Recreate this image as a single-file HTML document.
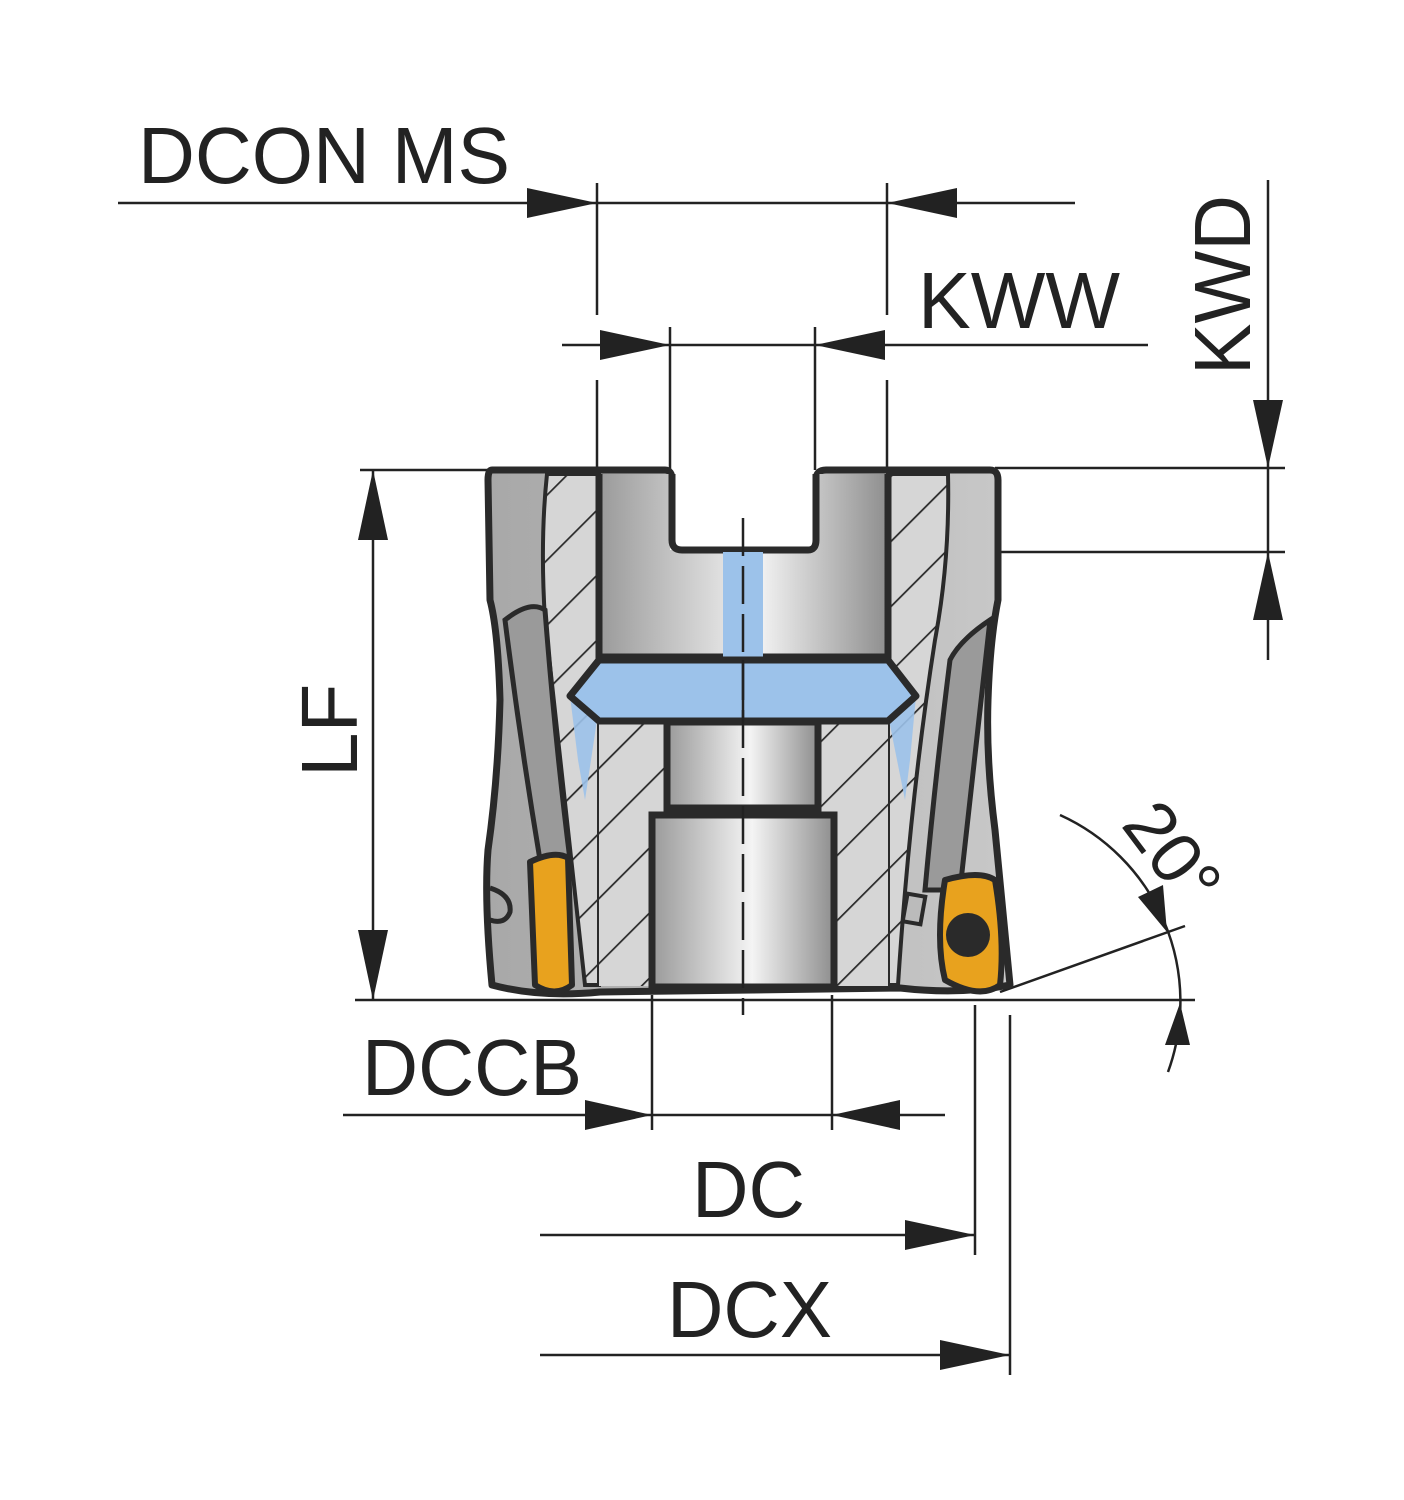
<!DOCTYPE html>
<html><head><meta charset="utf-8"><style>html,body{margin:0;padding:0;background:#fff}svg{display:block}</style></head>
<body>
<svg width="1404" height="1500" viewBox="0 0 1404 1500" xmlns="http://www.w3.org/2000/svg" font-family="Liberation Sans, sans-serif">
<defs>
<linearGradient id="bore" x1="0" x2="1" y1="0" y2="0">
<stop offset="0" stop-color="#9a9a9a"/><stop offset="0.55" stop-color="#f4f4f4"/><stop offset="1" stop-color="#8e8e8e"/></linearGradient>
<linearGradient id="outer" x1="0" x2="1"><stop offset="0" stop-color="#a8a8a8"/><stop offset="1" stop-color="#c8c8c8"/></linearGradient>
<pattern id="hatch" patternUnits="userSpaceOnUse" width="46" height="46" patternTransform="rotate(45)">
<rect width="46" height="46" fill="#d6d6d6"/><line x1="0" y1="0" x2="0" y2="46" stroke="#2a2a2a" stroke-width="3.5"/></pattern>
</defs>
<g stroke="#222" stroke-width="2.5" fill="none">
<line x1="118" y1="203" x2="1075" y2="203"/>
<line x1="597" y1="183" x2="597" y2="315"/><line x1="887" y1="183" x2="887" y2="315"/>
<line x1="562" y1="345" x2="1148" y2="345"/>
<line x1="670" y1="327" x2="670" y2="470"/><line x1="815" y1="327" x2="815" y2="470"/>
<line x1="597" y1="380" x2="597" y2="470"/><line x1="887" y1="380" x2="887" y2="470"/>
<line x1="1268" y1="180" x2="1268" y2="660"/>
<line x1="995" y1="468" x2="1285" y2="468"/><line x1="820" y1="552" x2="1285" y2="552"/>
<line x1="373" y1="470" x2="373" y2="1000"/>
<line x1="360" y1="470" x2="490" y2="470"/><line x1="355" y1="1000" x2="1195" y2="1000"/>
<line x1="343" y1="1115" x2="945" y2="1115"/>
<line x1="652" y1="995" x2="652" y2="1130"/><line x1="832" y1="995" x2="832" y2="1130"/>
<line x1="540" y1="1235" x2="975" y2="1235"/><line x1="975" y1="1005" x2="975" y2="1255"/>
<line x1="540" y1="1355" x2="1010" y2="1355"/><line x1="1010" y1="1015" x2="1010" y2="1375"/>
<path d="M1060 815 A205 205 0 0 1 1168 1072"/>
<line x1="1000" y1="992" x2="1185" y2="926"/>
</g>
<g fill="#222">
<polygon points="597,203 527,188 527,218"/><polygon points="887,203 957,188 957,218"/>
<polygon points="670,345 600,330 600,360"/><polygon points="815,345 885,330 885,360"/>
<polygon points="1268,468 1253,400 1283,400"/><polygon points="1268,552 1253,620 1283,620"/>
<polygon points="373,470 358,540 388,540"/><polygon points="373,1000 358,930 388,930"/>
<polygon points="652,1115 585,1100 585,1130"/><polygon points="832,1115 900,1100 900,1130"/>
<polygon points="975,1235 905,1220 905,1250"/><polygon points="1010,1355 940,1340 940,1370"/>
<polygon points="1167,932 1138,897 1163,885"/><polygon points="1180,1003 1165,1045 1190,1045"/>
</g>
<path d="M492 470 L665 470 Q672 470 672 480 L672 540 Q672 550 682 550 L808 550 Q816 550 816 540 L816 480 Q816 470 826 470 L990 470 Q998 470 998 480 L998 600 Q990 640 988 700 Q986 760 995 830 L1010 985 Q960 995 900 988 L600 992 Q540 998 492 985 Q484 900 488 850 Q498 780 500 700 Q498 630 490 600 L488 480 Q488 470 492 470 Z" fill="url(#outer)" stroke="#2a2a2a" stroke-width="7" stroke-linejoin="round"/>
<path d="M547 474 L599 474 L599 985 L585 985 Q565 800 545 620 Q540 540 547 474 Z" fill="url(#hatch)" stroke="#2a2a2a" stroke-width="4"/>
<path d="M888 474 L948 474 Q950 560 935 640 Q910 800 898 985 L888 985 Z" fill="url(#hatch)" stroke="#2a2a2a" stroke-width="4"/>
<rect x="599" y="722" width="289" height="264" fill="url(#hatch)"/>
<polygon points="570,696 600,700 585,800 578,760" fill="#9cc2ea" opacity="0.9"/>
<polygon points="916,696 885,700 905,800 910,760" fill="#9cc2ea" opacity="0.9"/>
<path d="M505 620 Q530 600 545 610 Q555 740 570 860 L540 860 Q520 740 505 620 Z" fill="#9a9a9a" stroke="#2a2a2a" stroke-width="5"/>
<path d="M990 620 Q960 640 950 660 Q935 780 925 890 L960 890 Q975 760 990 620 Z" fill="#9a9a9a" stroke="#2a2a2a" stroke-width="5"/>
<rect x="599" y="474" width="289" height="183" fill="url(#bore)"/>
<rect x="670" y="474" width="146" height="76" fill="#fff"/>
<path d="M599 474 L599 657 L888 657 L888 474 M672 474 L672 540 Q672 550 682 550 L808 550 Q816 550 816 540 L816 474" fill="none" stroke="#2a2a2a" stroke-width="7"/>
<rect x="723" y="552" width="40" height="105" fill="#9cc2ea"/>
<polygon points="599,660 888,660 916,696 888,721 599,721 570,696" fill="#9cc2ea" stroke="#2a2a2a" stroke-width="7" stroke-linejoin="round"/>
<rect x="667" y="722" width="151" height="86" fill="url(#bore)" stroke="#2a2a2a" stroke-width="7"/>
<rect x="652" y="815" width="182" height="172" fill="url(#bore)" stroke="#2a2a2a" stroke-width="7"/>
<line x1="743" y1="518" x2="743" y2="1015" stroke="#222" stroke-width="2.5" stroke-dasharray="38 10"/>
<line x1="743" y1="660" x2="743" y2="721" stroke="#222" stroke-width="2.5"/>
<path d="M530 862 Q555 850 568 858 L572 985 Q555 998 535 985 Z" fill="#e8a21e" stroke="#2a2a2a" stroke-width="6" stroke-linejoin="round"/>
<path d="M490 888 Q512 895 510 912 Q505 925 490 920" fill="none" stroke="#2a2a2a" stroke-width="5"/>
<path d="M945 880 Q980 870 995 880 Q1005 940 1000 985 Q980 1000 945 980 Q935 940 945 880 Z" fill="#e8a21e" stroke="#2a2a2a" stroke-width="6" stroke-linejoin="round"/>
<circle cx="968" cy="935" r="22" fill="#2a2a2a"/>
<rect x="905" y="895" width="18" height="28" fill="#bbb" stroke="#2a2a2a" stroke-width="4" transform="rotate(10 914 909)"/>
<g fill="#222" font-size="80">
<text x="138" y="183" textLength="372" lengthAdjust="spacingAndGlyphs">DCON MS</text>
<text x="918" y="328" textLength="202" lengthAdjust="spacingAndGlyphs">KWW</text>
<text x="362" y="1095" textLength="220" lengthAdjust="spacingAndGlyphs">DCCB</text>
<text x="692" y="1217" textLength="113" lengthAdjust="spacingAndGlyphs">DC</text>
<text x="667" y="1337" textLength="165" lengthAdjust="spacingAndGlyphs">DCX</text>
<text transform="translate(1250 375) rotate(-90)" textLength="180" lengthAdjust="spacingAndGlyphs">KWD</text>
<text transform="translate(357 777) rotate(-90)">LF</text>
<text font-size="72" transform="translate(1120 825) rotate(53)">20°</text>
</g>
</svg>
</body></html>
